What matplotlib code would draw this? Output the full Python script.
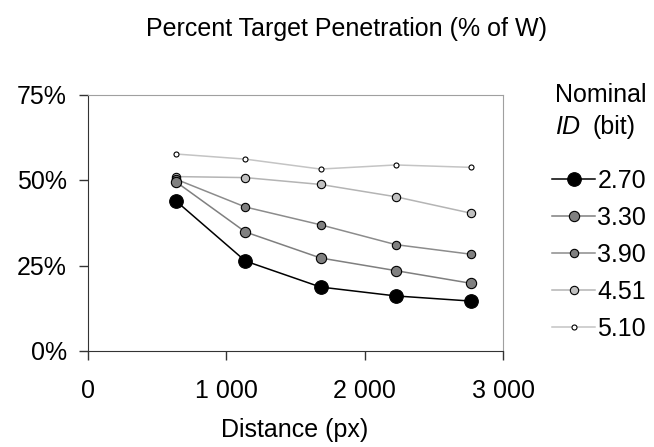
import matplotlib
matplotlib.use("Agg")
import matplotlib.pyplot as plt
from matplotlib.ticker import FuncFormatter

plt.rcParams['font.family'] = ['Liberation Sans', 'DejaVu Sans']

# Data
distance = [638, 1138, 1681, 2225, 2768]
id_labels = ["2.70", "3.30", "3.90", "4.51", "5.10"]
pen_270 = [43.8, 26.3, 18.7, 16.1, 14.6]
pen_330 = [49.4, 34.8, 27.2, 23.5, 19.8]
pen_390 = [50.2, 42.1, 36.9, 31.1, 28.3]
pen_451 = [51.0, 50.7, 48.7, 45.1, 40.3]
pen_510 = [57.6, 56.1, 53.2, 54.4, 53.7]

series = [pen_270, pen_330, pen_390, pen_451, pen_510]
line_colors = ["#000000", "#7f7f7f", "#8c8c8c", "#b4b4b4", "#c4c4c4"]
face_colors = ["#000000", "#808080", "#808080", "#c0c0c0", "#ffffff"]
marker_sizes = [9.8, 7.4, 6, 6, 3.6]

FS = 18

fig = plt.figure(figsize=(6.54, 4.47), dpi=100)
ax = fig.add_axes([88 / 654, 1 - 351 / 447, 415 / 654, 256.5 / 447])

# draw lightest first so darker series sit on top
for i in reversed(range(len(series))):
    ax.plot(distance, series[i], color=line_colors[i], lw=1.1,
            marker='o', markersize=marker_sizes[i], markerfacecolor=face_colors[i],
            markeredgecolor='black', markeredgewidth=0.8, label=id_labels[i])

ax.set_xlim(0, 3000)
ax.set_ylim(0, 75)
ax.set_xticks([0, 1000, 2000, 3000])
ax.set_yticks([0, 25, 50, 75])
ax.xaxis.set_major_formatter(FuncFormatter(lambda v, p: f"{int(v):,}".replace(",", " ")))
ax.yaxis.set_major_formatter(FuncFormatter(lambda v, p: f"{int(v)}%"))
ax.tick_params(direction='out', length=6.3, width=1, labelsize=FS, color='#333333')
ax.tick_params(axis='x', pad=14)
ax.tick_params(axis='y', pad=9)

for side in ['top', 'right']:
    ax.spines[side].set_color('#a0a0a0')
for side in ['left', 'bottom']:
    ax.spines[side].set_color('#333333')

fig.text(295 / 654, 1 - 430 / 447, "Distance (px)", ha='center', va='center', fontsize=FS)
fig.text(346 / 654, 1 - 29 / 447, "Percent Target Penetration (% of W)",
         ha='center', va='center', fontsize=FS)

# legend, entries in original order
handles, labels = ax.get_legend_handles_labels()
handles, labels = handles[::-1], labels[::-1]
fig.legend(handles, labels, loc='upper left', bbox_to_anchor=(552 / 654, 1 - 169 / 447),
           frameon=False, fontsize=FS, handlelength=1.72, handletextpad=0.1,
           labelspacing=0.52, borderpad=0, borderaxespad=0)

fig.text(555 / 654, 1 - 95 / 447, "Nominal", ha='left', va='center', fontsize=FS)
fig.text(555 / 654, 1 - 127 / 447, "ID", ha='left', va='center', fontsize=FS, style='italic')
fig.text(593 / 654, 1 - 127 / 447, "(bit)", ha='left', va='center', fontsize=FS)

fig.savefig("out.png", dpi=100)
